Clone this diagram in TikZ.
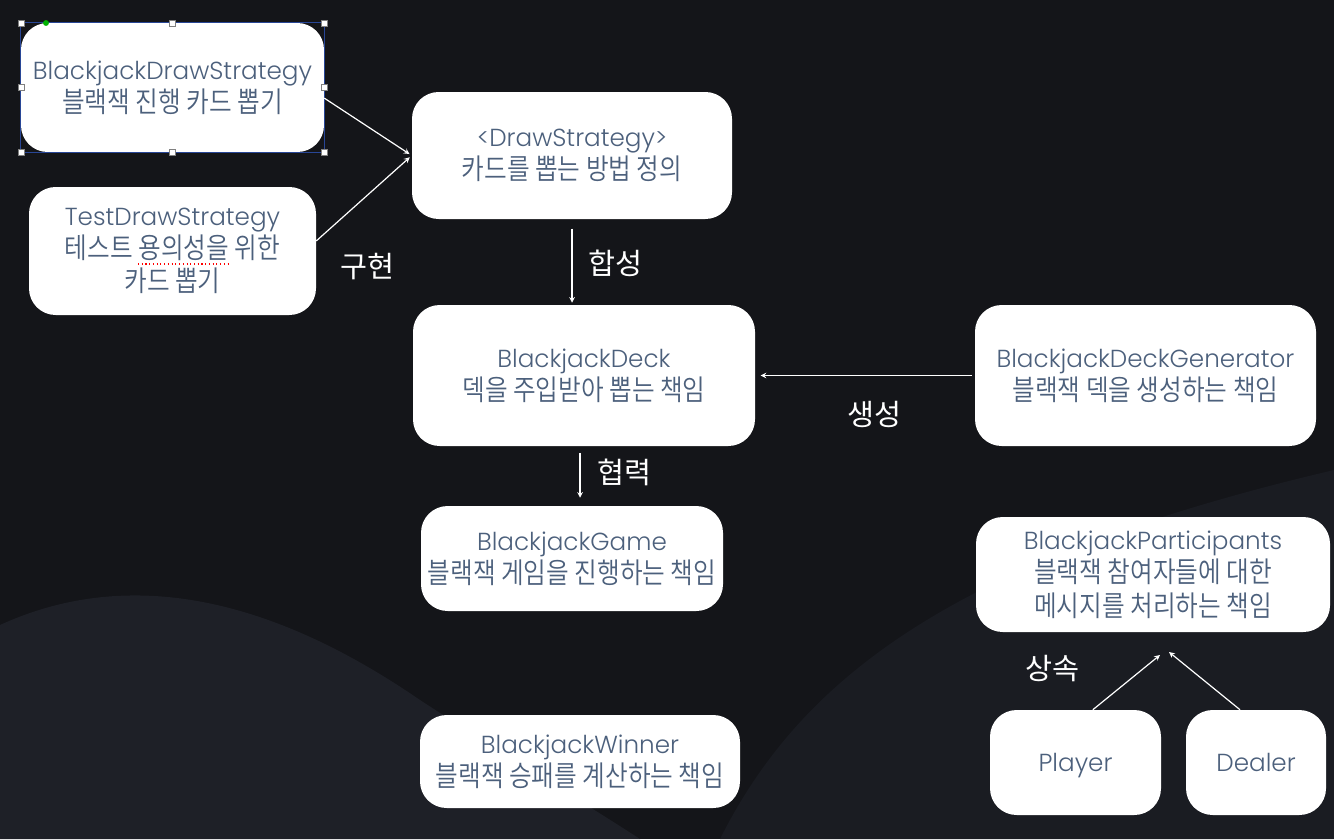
\documentclass[tikz,border=0pt]{standalone}
\usepackage{fontspec}
\setmainfont{Poppins}[UprightFont=* Light]
\newfontfamily\krfont{Noto Sans CJK KR}[UprightFont=* DemiLight, FakeStretch=0.86]
\newfontfamily\krlabel{Noto Sans CJK KR}
\usepackage{tikz}
\usetikzlibrary{calc}
\usetikzlibrary{arrows}
\definecolor{bgdark}{RGB}{20,21,25}
\definecolor{bgwave}{RGB}{30,32,39}
\definecolor{bgwavetwo}{RGB}{26,28,34}
\definecolor{cardtxt}{RGB}{76,96,124}
\definecolor{selblue}{RGB}{40,70,150}
\newcommand{\kr}[1]{{\krfont\fontsize{21.5}{25}\selectfont #1}}

\begin{document}
\begin{tikzpicture}[x=0.75pt,y=-0.75pt,
  card/.style 2 args={fill=white, rounded corners=20pt, align=center, text=cardtxt,
    inner sep=0pt, minimum width=#1*0.75pt, minimum height=#2*0.75pt,
    font=\fontsize{18.5}{25}\selectfont},
  rel/.style={text=white, font=\krlabel\fontsize{22}{26}\selectfont},
  link/.style={draw=white, line width=0.9pt, ->, >=stealth}]
% Background with soft waves
\useasboundingbox (0,0) rectangle (1334,839);
\fill[bgdark] (0,0) rectangle (1334,839);
\fill[bgwave] (0,625) .. controls (120,570) and (260,590) .. (420,700) .. controls (520,765) and (580,800) .. (640,839) -- (0,839) -- cycle;
\fill[bgwavetwo] (720,839) .. controls (800,680) and (950,560) .. (1334,470) -- (1334,839) -- cycle;
% Strategy boxes
\node[card={303}{129}] (drawstrat) at (172.5,87.5) {BlackjackDrawStrategy\\\kr{블랙잭 진행 카드 뽑기}};
\node[card={287}{128}] (teststrat) at (172.5,251) {TestDrawStrategy\\\kr{테스트 용의성을 위한}\\\kr{카드 뽑기}};
\node[card={320}{127}] (iface) at (572,155.5) {<DrawStrategy>\\\kr{카드를 뽑는 방법 정의}};
% Deck and generator
\node[card={342}{141}] (deck) at (584,375.5) {BlackjackDeck\\\kr{덱을 주입받아 뽑는 책임}};
\node[card={341}{141}] (gen) at (1145.5,375.5) {BlackjackDeckGenerator\\\kr{블랙잭 덱을 생성하는 책임}};
% Game and winner
\node[card={302}{105}] (game) at (572,558.5) {BlackjackGame\\\kr{블랙잭 게임을 진행하는 책임}};
\node[card={320}{93}] (winner) at (580,761.5) {BlackjackWinner\\\kr{블랙잭 승패를 계산하는 책임}};
% Participants
\node[card={354}{115}] (parts) at (1153,574.5) {BlackjackParticipants\\\kr{블랙잭 참여자들에 대한}\\\kr{메시지를 처리하는 책임}};
\node[card={171}{105}, text depth=0pt] (player) at (1075.5,762.5) {Player\vphantom{D}};
\node[card={140}{105}] (dealer) at (1256,762.5) {Dealer};
% Selection frame around the first box
\draw[selblue, line width=0.6pt] (drawstrat.north west) rectangle (drawstrat.south east);
\foreach \hx/\hy in {21/23,172/23,324/23,21/87.5,324/87.5,21/152,172/152,324/152}{
\draw[fill=white, draw=gray, line width=0.3pt] (\hx-3,\hy-3) rectangle (\hx+3,\hy+3);}
\fill[green!70!black] (46,23) circle (2.2pt);
\draw[red, dotted, line width=0.8pt] (138,264) -- (228,264);
% Relations
\draw[link, shorten >=2pt] (drawstrat.-4) -- (iface.west);
\draw[link, shorten >=2pt] (teststrat.4) -- (iface.west);
\node[rel] (implLbl) at (367,267) {구현};
\draw[link, shorten <=7pt, shorten >=1.5pt] (iface.south) -- (iface.south |- deck.north);
\node[rel] (compLbl) at (615,263) {합성};
\draw[link, shorten <=2pt, shorten >=4pt] (gen.west) -- (deck.east);
\node[rel] (genLbl) at (874,414) {생성};
\draw[link, shorten <=5pt, shorten >=6pt] ([xshift=-3pt]deck.south) -- ([xshift=-3pt]deck.south |- game.north);
\node[rel] (collabLbl) at (624,472) {협력};
\coordinate (inhA) at (1160,655);
\coordinate (inhB) at (1169,652);
\draw[link] ([xshift=13pt]player.north) -- (inhA);
\draw[link] ([xshift=-12pt]dealer.north) -- (inhB);
\node[rel] (inhLbl) at (1052,669) {상속};
\end{tikzpicture}
\end{document}
